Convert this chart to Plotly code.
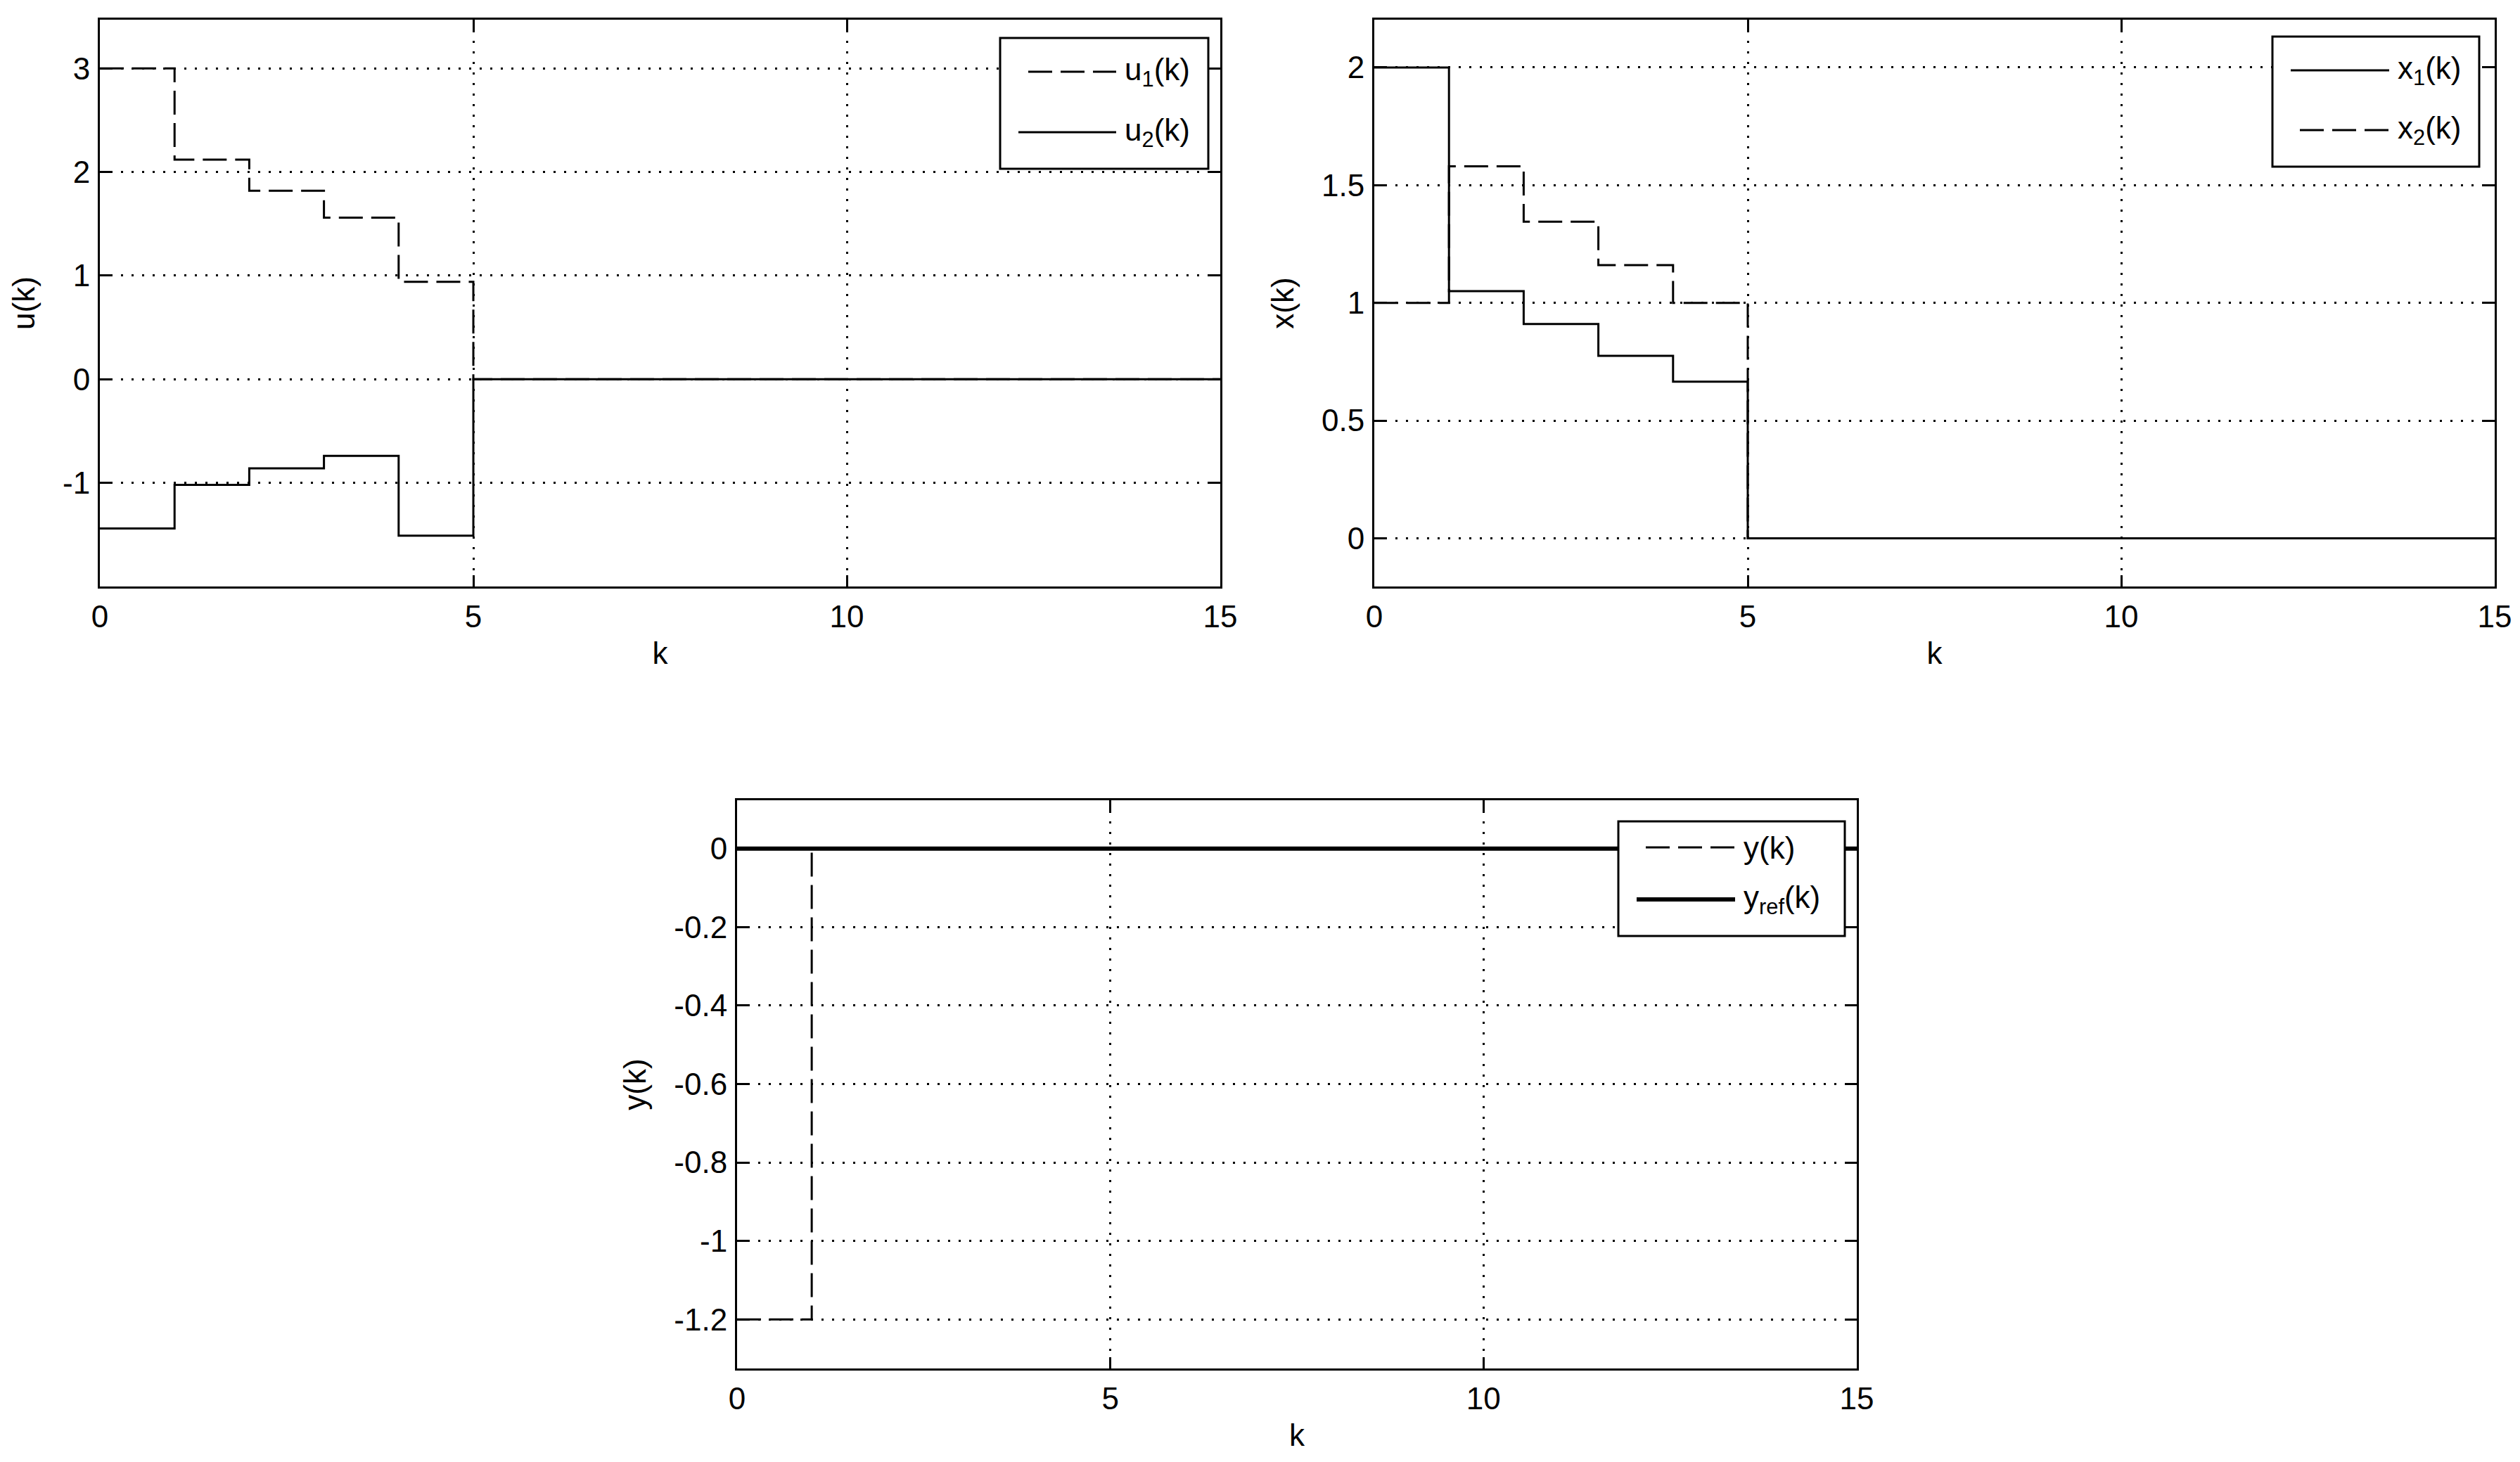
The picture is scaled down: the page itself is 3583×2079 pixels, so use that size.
"""Step responses of u(k), x(k) and y(k) drawn as MATLAB-style stairs."""
import plotly.graph_objects as go

W, H = 3583, 2079
FONT = "Liberation Sans Narrow, Liberation Sans, Arial, sans-serif"

# sample index
k = [0, 1, 2, 3, 4, 5, 6, 7, 8, 9, 10, 11, 12, 13, 14, 15]

# control inputs
u1 = [3.0, 2.12, 1.82, 1.56, 0.94, 0, 0, 0, 0, 0, 0, 0, 0, 0, 0, 0]
u2 = [-1.44, -1.02, -0.86, -0.74, -1.51, 0, 0, 0, 0, 0, 0, 0, 0, 0, 0, 0]

# states
x1 = [2.0, 1.05, 0.91, 0.775, 0.665, 0, 0, 0, 0, 0, 0, 0, 0, 0, 0, 0]
x2 = [1.0, 1.58, 1.345, 1.16, 1.0, 0, 0, 0, 0, 0, 0, 0, 0, 0, 0, 0]

# output and reference
y = [-1.2, 0, 0, 0, 0, 0, 0, 0, 0, 0, 0, 0, 0, 0, 0, 0]
y_ref = [0, 0, 0, 0, 0, 0, 0, 0, 0, 0, 0, 0, 0, 0, 0, 0]

# tick labels
k_ticks = [0, 5, 10, 15]
u_ticks = [-1, 0, 1, 2, 3]
x_ticks = [0, 0.5, 1, 1.5, 2]
x_tick_text = ["0", "0.5", "1", "1.5", "2"]
y_ticks = [-1.2, -1, -0.8, -0.6, -0.4, -0.2, 0]
y_tick_text = ["-1.2", "-1", "-0.8", "-0.6", "-0.4", "-0.2", "0"]

DASH = "34px,12px"


def px(x):
    return x / W


def py(yy):
    return 1 - yy / H


def stairs(xs, ys, xa, ya, name, dash="solid", width=3):
    return go.Scatter(
        x=xs, y=ys, xaxis=xa, yaxis=ya, name=name, mode="lines",
        line={"shape": "hv", "color": "black", "width": width, "dash": dash},
    )


def add_legend(fig, box, rows):
    """Box in pixels (x0, y0, x1, y1); rows of (y, x0, x1, dash, width, label)."""
    x0, y0, x1, y1 = box
    fig.add_shape(
        type="rect", xref="paper", yref="paper",
        x0=px(x0), x1=px(x1), y0=py(y1), y1=py(y0),
        line={"color": "black", "width": 3}, fillcolor="white", layer="above",
    )
    for ry, lx0, lx1, dash, width, label in rows:
        fig.add_shape(
            type="line", xref="paper", yref="paper",
            x0=px(lx0), x1=px(lx1), y0=py(ry), y1=py(ry),
            line={"color": "black", "width": width, "dash": dash}, layer="above",
        )
        fig.add_annotation(
            x=px(lx1 + 10), y=py(ry), xref="paper", yref="paper",
            text=label, showarrow=False, xanchor="left", yanchor="middle",
            font={"size": 44, "color": "black", "family": FONT},
        )


fig = go.Figure()
fig.add_trace(stairs(k, u1, "x", "y", "u1(k)", dash=DASH))
fig.add_trace(stairs(k, u2, "x", "y", "u2(k)"))
fig.add_trace(stairs(k, x1, "x2", "y2", "x1(k)"))
fig.add_trace(stairs(k, x2, "x2", "y2", "x2(k)", dash=DASH))
fig.add_trace(stairs(k, y, "x3", "y3", "y(k)", dash=DASH))
fig.add_trace(stairs(k, y_ref, "x3", "y3", "yref(k)", width=6))

axis_style = dict(
    showline=True, linecolor="black", linewidth=3, mirror="ticks",
    ticks="inside", ticklen=16, tickwidth=3, tickcolor="black",
    showgrid=True, gridcolor="black", gridwidth=3, griddash="3px,12px",
    zeroline=False, tickfont={"size": 44, "color": "black", "family": FONT},
    ticklabelstandoff=2, automargin=False,
)
title_font = {"size": 44, "color": "black", "family": FONT}

top = [py(834), py(28)]
bottom = [py(1946), py(1138)]

fig.update_layout(
    width=W, height=H,
    margin={"l": 0, "r": 0, "t": 0, "b": 0},
    paper_bgcolor="white", plot_bgcolor="white",
    showlegend=False,
    font={"family": FONT, "color": "black"},
    xaxis=dict(axis_style, domain=[px(142), px(1735)], anchor="y", range=[0, 15],
               tickvals=k_ticks, title={"text": "k", "font": title_font, "standoff": 14}),
    yaxis=dict(axis_style, domain=top, anchor="x", range=[-2.0, 3.47],
               tickvals=u_ticks, ticktext=[str(v) for v in u_ticks],
               title={"text": "u(k)", "font": title_font, "standoff": 26}),
    xaxis2=dict(axis_style, domain=[px(1954), px(3547)], anchor="y2", range=[0, 15],
                tickvals=k_ticks, title={"text": "k", "font": title_font, "standoff": 14}),
    yaxis2=dict(axis_style, domain=top, anchor="x2", range=[-0.205, 2.203],
                tickvals=x_ticks, ticktext=x_tick_text,
                title={"text": "x(k)", "font": title_font, "standoff": 26}),
    xaxis3=dict(axis_style, domain=[px(1048), px(2640)], anchor="y3", range=[0, 15],
                tickvals=k_ticks, title={"text": "k", "font": title_font, "standoff": 14}),
    yaxis3=dict(axis_style, domain=bottom, anchor="x3", range=[-1.325, 0.123],
                tickvals=y_ticks, ticktext=y_tick_text,
                title={"text": "y(k)", "font": title_font, "standoff": 26}),
)

add_legend(fig, (1422, 54, 1718, 240), [
    (102, 1462, 1587, DASH, 3, "u<sub>1</sub>(k)"),
    (188, 1448, 1587, "solid", 3, "u<sub>2</sub>(k)"),
])
add_legend(fig, (3231, 52, 3525, 237), [
    (100, 3257, 3397, "solid", 3, "x<sub>1</sub>(k)"),
    (185, 3270, 3397, DASH, 3, "x<sub>2</sub>(k)"),
])
add_legend(fig, (2301, 1168, 2623, 1331), [
    (1205, 2340, 2467, DASH, 3, "y(k)"),
    (1279, 2327, 2467, "solid", 6, "y<sub>ref</sub>(k)"),
])

fig.write_html(
    "out.html",
    config={"displayModeBar": False},
    post_script="document.body.style.margin='0';",
)
